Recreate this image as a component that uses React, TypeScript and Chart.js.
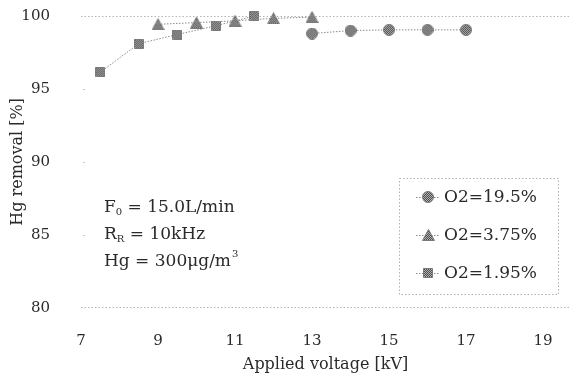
import React, { useEffect, useRef } from "react";
import { Chart, registerables } from "chart.js";

Chart.register(...registerables);

const seriesNames = ["O2=19.5%", "O2=3.75%", "O2=1.95%"];
const o2_19_5_x = [13, 14, 15, 16, 17];
const o2_19_5_y = [98.8, 99.0, 99.05, 99.05, 99.05];
const o2_3_75_x = [9, 10, 11, 12, 13];
const o2_3_75_y = [99.43, 99.55, 99.67, 99.84, 99.92];
const o2_1_95_x = [7.5, 8.5, 9.5, 10.5, 11.5];
const o2_1_95_y = [96.15, 98.1, 98.73, 99.33, 100.0];
const xTickValues = [7, 9, 11, 13, 15, 17, 19];
const yTickValues = [80, 85, 90, 95, 100];
const annotationLines = [
  { main: "F", sub: "0", rest: " = 15.0L/min", sup: "" },
  { main: "R", sub: "R", rest: " = 10kHz", sup: "" },
  { main: "Hg = 300μg/m", sub: "", rest: "", sup: "3" },
];

const FONT = "'DejaVu Serif', serif";
const TEXT = "#2a2a2a";
const LINE = "#8a8a8a";

function makeMarker(kind: string, size: number): HTMLCanvasElement {
  const c = document.createElement("canvas");
  const w = size, h = kind === "triangle" ? Math.round(size * 0.9) : size;
  c.width = w;
  c.height = h;
  const ctx = c.getContext("2d")!;
  const p = document.createElement("canvas");
  p.width = 2;
  p.height = 2;
  const pc = p.getContext("2d")!;
  pc.fillStyle = "#b4b4b4";
  pc.fillRect(0, 0, 2, 2);
  pc.fillStyle = "#4a4a4a";
  pc.fillRect(0, 0, 1, 1);
  pc.fillRect(1, 1, 1, 1);
  const pat = ctx.createPattern(p, "repeat")!;
  ctx.beginPath();
  if (kind === "circle") {
    ctx.arc(w / 2, h / 2, w / 2 - 0.5, 0, Math.PI * 2);
  } else if (kind === "triangle") {
    ctx.moveTo(w / 2, 0.5);
    ctx.lineTo(w - 0.5, h - 0.5);
    ctx.lineTo(0.5, h - 0.5);
    ctx.closePath();
  } else {
    ctx.rect(0.5, 0.5, w - 1, h - 1);
  }
  ctx.fillStyle = pat;
  ctx.fill();
  ctx.strokeStyle = "#7a7a7a";
  ctx.lineWidth = 1;
  ctx.stroke();
  return c;
}

export default function App() {
  const ref = useRef<HTMLCanvasElement | null>(null);
  useEffect(() => {
    document.body.style.margin = "0";
    const canvas = ref.current;
    if (!canvas) return;
    const mk = (xs: number[], ys: number[]) => xs.map((x, i) => ({ x, y: ys[i] }));
    const datas = [mk(o2_19_5_x, o2_19_5_y), mk(o2_3_75_x, o2_3_75_y), mk(o2_1_95_x, o2_1_95_y)];
    const markers = [makeMarker("circle", 12), makeMarker("triangle", 13), makeMarker("rect", 10)];

    const overlay = {
      id: "overlay",
      afterDatasetsDraw(chart: any) {
        const ctx = chart.ctx;
        const ca = chart.chartArea;
        const ys = chart.scales.y;
        ctx.save();
        // tiny grid stubs at intermediate ticks
        ctx.strokeStyle = "#c8c8c8";
        ctx.lineWidth = 1;
        [85, 90, 95].forEach((v) => {
          const py = Math.round(ys.getPixelForValue(v)) + 0.5;
          ctx.beginPath();
          ctx.moveTo(ca.left + 2, py);
          ctx.lineTo(ca.left + 4, py);
          ctx.stroke();
        });
        ctx.fillStyle = TEXT;
        ctx.textBaseline = "middle";
        const y85 = ys.getPixelForValue(85);
        const lineYs = [y85 - 27, y85, y85 + 27];
        annotationLines.forEach((l, i) => {
          let x = ca.left + 23;
          const y = lineYs[i];
          ctx.font = `17px ${FONT}`;
          ctx.fillText(l.main, x, y);
          x += ctx.measureText(l.main).width;
          if (l.sub) {
            ctx.font = `10px ${FONT}`;
            ctx.fillText(l.sub, x, y + 5);
            x += ctx.measureText(l.sub).width;
          }
          if (l.rest) {
            ctx.font = `17px ${FONT}`;
            ctx.fillText(l.rest, x, y);
            x += ctx.measureText(l.rest).width;
          }
          if (l.sup) {
            ctx.font = `10px ${FONT}`;
            ctx.fillText(l.sup, x + 1, y - 7);
          }
        });
        // legend box
        const bx = 399, bw = 159;
        const top = y85 - 57, bottom = ys.getPixelForValue(80) - 14;
        ctx.strokeStyle = "#b0b0b0";
        ctx.lineWidth = 1;
        ctx.setLineDash([1.5, 2]);
        ctx.strokeRect(bx + 0.5, Math.round(top) + 0.5, bw, Math.round(bottom - top));
        seriesNames.forEach((name, i) => {
          const cy = Math.round(y85 - 38 + i * 38);
          const x0 = bx + 17, x1 = bx + 41;
          ctx.strokeStyle = LINE;
          ctx.setLineDash([1.5, 1.5]);
          ctx.beginPath();
          ctx.moveTo(x0, cy + 0.5);
          ctx.lineTo(x1, cy + 0.5);
          ctx.stroke();
          ctx.setLineDash([]);
          const m = markers[i];
          ctx.drawImage(m, Math.round((x0 + x1) / 2 - m.width / 2), Math.round(cy - m.height / 2));
          ctx.fillStyle = TEXT;
          ctx.font = `17px ${FONT}`;
          ctx.fillText(name, x1 + 4, cy + 1);
        });
        ctx.restore();
      },
    };

    const chart = new Chart(canvas, {
      type: "scatter",
      data: {
        datasets: datas.map((d, i) => ({
          label: seriesNames[i],
          data: d,
          showLine: true,
          borderColor: LINE,
          borderWidth: 1,
          borderDash: [1.5, 1.5],
          pointStyle: markers[i] as any,
          pointRadius: 6,
          clip: false as any,
        })),
      },
      options: {
        animation: false,
        responsive: false,
        maintainAspectRatio: false,
        layout: { padding: { top: 16, right: 3, bottom: 2, left: 8 } },
        plugins: { legend: { display: false }, tooltip: { enabled: false } },
        scales: {
          x: {
            type: "linear",
            min: 7,
            max: 19.7,
            afterBuildTicks: (s: any) => {
              s.ticks = xTickValues.map((v) => ({ value: v }));
            },
            grid: { display: false, drawTicks: true, tickLength: 20, tickColor: "rgba(0,0,0,0)" },
            border: { display: false },
            ticks: { color: TEXT, font: { family: FONT, size: 15 }, padding: 4, maxRotation: 0 },
            title: { display: true, text: "Applied voltage [kV]", color: TEXT, font: { family: FONT, size: 16 }, padding: { top: 1, bottom: 0 } },
          },
          y: {
            type: "linear",
            min: 80,
            max: 100,
            afterBuildTicks: (s: any) => {
              s.ticks = yTickValues.map((v) => ({ value: v }));
            },
            afterFit: (s: any) => {
              s.width = 73;
            },
            grid: {
              color: (c: any) => (c.tick && (c.tick.value === 80 || c.tick.value === 100) ? "#b4b4b4" : "rgba(0,0,0,0)"),
              tickColor: "rgba(0,0,0,0)",
              drawTicks: true,
              tickLength: 27,
            },
            border: { display: false, dash: [1.5, 2] },
            ticks: { color: TEXT, font: { family: FONT, size: 15 }, padding: 4 },
            title: { display: true, text: "Hg removal [%]", color: TEXT, font: { family: FONT, size: 16 }, padding: { top: 0, bottom: 0 } },
          },
        },
      },
      plugins: [overlay],
    } as any);
    return () => chart.destroy();
  }, []);
  return (
    <div style={{ width: 577, height: 376, background: "#fff" }}>
      <canvas ref={ref} width={577} height={376} style={{ width: 577, height: 376, display: "block" }} />
    </div>
  );
}
